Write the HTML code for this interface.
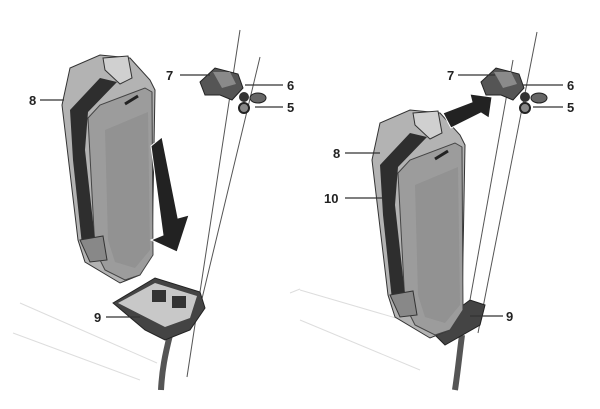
<!DOCTYPE html>
<html><head><meta charset="utf-8"><style>
html,body{margin:0;padding:0;background:#fff;width:600px;height:409px;overflow:hidden}
text{font-family:"Liberation Sans",sans-serif;font-weight:bold;font-size:13px;fill:#222}
</style></head><body>
<svg width="600" height="409" viewBox="0 0 600 409" xmlns="http://www.w3.org/2000/svg">
<!-- faint frame lines -->
<g stroke="#ddd" stroke-width="1" fill="none">
<line x1="20" y1="303" x2="157" y2="363"/><line x1="13" y1="333" x2="140" y2="380"/>
<line x1="290" y1="293" x2="300" y2="289"/>
<line x1="300" y1="290" x2="437" y2="330"/><line x1="300" y1="320" x2="420" y2="370"/>
</g>
<g stroke="#555" stroke-width="1" fill="none">
<line x1="240" y1="30" x2="187" y2="377"/><line x1="260" y1="57" x2="200" y2="307"/>
<line x1="537" y1="32" x2="478" y2="333"/><line x1="513" y1="60" x2="470" y2="300"/>
</g>
<defs>
<g id="bat">
<polygon points="62,105 70,68 100,55 130,58 150,80 155,90 152,255 140,275 120,283 85,262 78,240" fill="#b3b3b3" stroke="#333"/>
<polygon points="88,118 100,105 145,88 152,92 153,255 140,275 125,280 105,270 95,250" fill="#9c9c9c" stroke="#444"/>
<polygon points="105,130 148,112 150,250 135,268 115,262 108,240" fill="#929292"/>
<polygon points="70,110 100,78 117,82 88,112 85,150 95,240 82,245 73,160" fill="#2e2e2e"/>
<polygon points="103,58 128,56 132,78 120,84 105,70" fill="#d0d0d0" stroke="#333"/>
<polygon points="80,240 103,236 107,260 90,262" fill="#888" stroke="#333"/>
<line x1="125" y1="104" x2="138" y2="96" stroke="#222" stroke-width="3"/>
</g>
<g id="lock">
<polygon points="200,82 215,68 238,74 243,88 232,100 220,95 205,95" fill="#555" stroke="#222"/>
<polygon points="213,72 230,72 236,84 222,88" fill="#8a8a8a"/>
<circle cx="244" cy="97" r="5" fill="#333"/>
<ellipse cx="258" cy="98" rx="8" ry="5" fill="#666" stroke="#222"/>
<circle cx="244" cy="108" r="5" fill="#888" stroke="#222" stroke-width="2"/>
</g>
</defs>
<!-- left scene -->
<use href="#bat"/>
<polygon points="151,146 162,137 178,218 189,215 177,252 151,240 163,235" fill="#222" stroke="#fff" stroke-width="1"/>
<path d="M170,335 C165,355 162,370 161,390" stroke="#555" stroke-width="6" fill="none"/>
<polygon points="113,303 155,278 200,292 205,308 190,330 165,340 145,330" fill="#444" stroke="#222"/>
<polygon points="118,303 155,283 197,296 190,318 165,327" fill="#c8c8c8"/>
<rect x="152" y="290" width="14" height="12" fill="#333"/><rect x="172" y="296" width="14" height="12" fill="#333"/>
<use href="#lock"/>
<!-- right scene -->
<path d="M455,390 C458,370 460,350 462,335" stroke="#555" stroke-width="6" fill="none"/>
<polygon points="430,330 470,300 485,305 480,325 445,345" fill="#444" stroke="#222"/>
<use href="#bat" transform="translate(310,55)"/>
<polygon points="443,113 472,102 470,94 492,97 489,118 481,113 451,128" fill="#222" stroke="#fff"/>
<use href="#lock" transform="translate(281,0)"/>
<!-- labels -->
<g stroke="#333" stroke-width="1.2">
<line x1="40" y1="100" x2="64" y2="100"/><line x1="180" y1="75" x2="210" y2="75"/>
<line x1="245" y1="85" x2="283" y2="85"/><line x1="255" y1="107" x2="283" y2="107"/>
<line x1="106" y1="317" x2="140" y2="317"/>
<line x1="458" y1="75" x2="495" y2="75"/><line x1="523" y1="85" x2="563" y2="85"/>
<line x1="533" y1="107" x2="563" y2="107"/><line x1="345" y1="153" x2="380" y2="153"/>
<line x1="345" y1="198" x2="383" y2="198"/><line x1="470" y1="316" x2="503" y2="316"/>
</g>
<text x="29" y="105">8</text><text x="166" y="80">7</text><text x="287" y="90">6</text><text x="287" y="112">5</text><text x="94" y="322">9</text>
<text x="447" y="80">7</text><text x="567" y="90">6</text><text x="567" y="112">5</text><text x="333" y="158">8</text><text x="324" y="203">10</text><text x="506" y="321">9</text>
</svg>
</body></html>
